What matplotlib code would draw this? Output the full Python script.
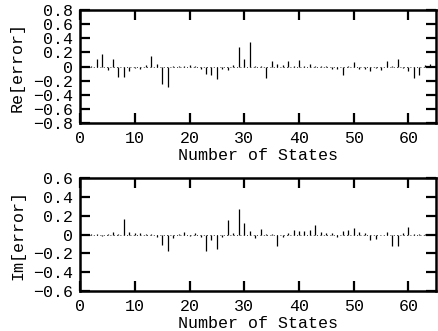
import numpy as np
import matplotlib
matplotlib.use("Agg")
import matplotlib.pyplot as plt

# error per state
states = np.arange(1, 65)
re_err = [0.00, 0.01, 0.11, 0.18, -0.05, 0.11, -0.15, -0.15, -0.06, -0.02,
          -0.04, 0.02, 0.15, 0.03, -0.25, -0.29, 0.01, 0.01, 0.01, 0.02,
          0.01, -0.04, -0.10, -0.12, -0.17, -0.03, -0.05, 0.02, 0.27, 0.10,
          0.34, 0.01, 0.01, -0.16, 0.08, 0.04, 0.02, 0.08, 0.01, 0.09,
          0.01, 0.03, 0.01, 0.01, 0.01, -0.03, -0.03, -0.12, 0.01, 0.06,
          -0.04, -0.03, -0.07, -0.02, -0.05, 0.08, 0.01, 0.10, -0.02, -0.07,
          -0.16, -0.12, 0.02, 0.03]
im_err = [0.005, 0.005, 0.01, -0.02, 0.01, 0.03, 0.01, 0.17, 0.03, 0.02,
          0.02, 0.01, 0.01, -0.03, -0.11, -0.17, -0.04, 0.01, 0.03, -0.02,
          0.02, -0.03, -0.17, -0.06, -0.15, -0.03, 0.15, 0.02, 0.27, 0.12,
          0.04, -0.04, 0.06, 0.01, 0.01, -0.12, -0.03, 0.02, 0.05, 0.04,
          0.04, 0.05, 0.10, 0.03, 0.02, 0.02, -0.03, 0.04, 0.05, 0.07,
          0.03, 0.02, -0.06, -0.05, -0.01, 0.03, -0.12, -0.12, 0.02, 0.08,
          0.01, 0.01, 0.005, 0.005]

xticks = [0, 10, 20, 30, 40, 50, 60]
re_ticks = [0.8, 0.6, 0.4, 0.2, 0, -0.2, -0.4, -0.6, -0.8]
im_ticks = [0.6, 0.4, 0.2, 0, -0.2, -0.4, -0.6]

plt.rcParams['font.family'] = ['Liberation Mono', 'DejaVu Sans Mono']
plt.rcParams['font.size'] = 12

fig = plt.figure(figsize=(4.38, 3.31), dpi=100)
ax1 = fig.add_axes([0.183, 0.628, 0.812, 0.342])
ax2 = fig.add_axes([0.183, 0.121, 0.812, 0.341])


def fmt(v):
    if v == 0:
        return '0'
    return ('%.1f' % v).replace('-', '\u2212')


def style(ax, yt, lim, ylab):
    ax.set_xlim(0, 65)
    ax.set_ylim(-lim, lim)
    ax.set_xticks(xticks)
    ax.set_yticks(yt)
    ax.set_yticklabels([fmt(v) for v in yt])
    ax.tick_params(direction='in', length=7, width=1.6, top=True, right=True)
    ax.tick_params(axis='x', pad=6)
    ax.tick_params(axis='y', pad=5)
    for s in ax.spines.values():
        s.set_linewidth(1.8)
    ax.set_xlabel('Number of States', labelpad=1)
    ax.set_ylabel(ylab, labelpad=6)
    ax.axhline(0, color='k', lw=0.6, ls=(0, (1, 3)))


ax1.vlines(states, 0, re_err, color='k', lw=0.9)
style(ax1, re_ticks, 0.8, 'Re[error]')
ax2.vlines(states, 0, im_err, color='k', lw=0.9)
style(ax2, im_ticks, 0.6, 'Im[error]')

fig.savefig('out.png', dpi=100)
